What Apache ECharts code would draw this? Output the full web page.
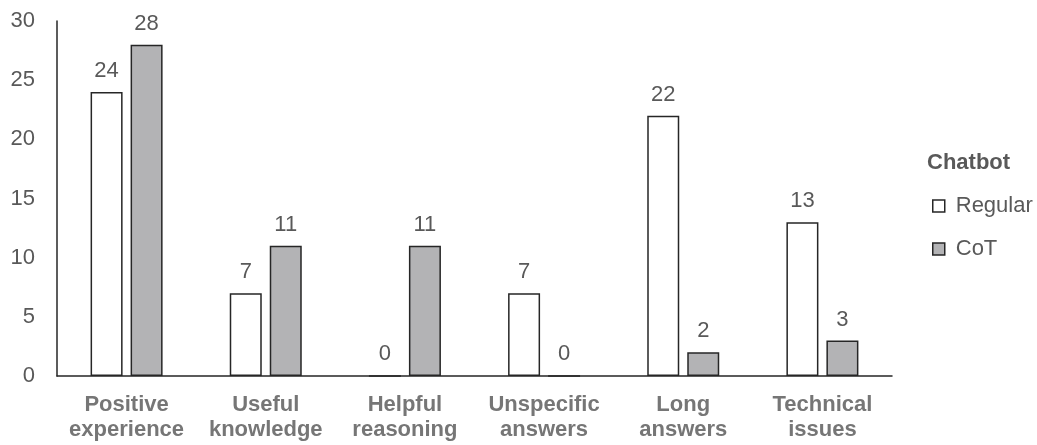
<!DOCTYPE html>
<html>
<head>
<meta charset="utf-8">
<script src="https://cdn.jsdelivr.net/npm/echarts@6/dist/echarts.min.js"></script>
<style>
  html, body { margin: 0; padding: 0; background: #fff; }
  #chart { width: 1037px; height: 445px; }
</style>
</head>
<body>
<div id="chart"></div>
<script>
const categories = ['Positive\nexperience', 'Useful\nknowledge', 'Helpful\nreasoning', 'Unspecific\nanswers', 'Long\nanswers', 'Technical\nissues'];
const regular = [24, 7, 0, 7, 22, 13];
const cot = [28, 11, 11, 0, 2, 3];
const yTicks = [0, 5, 10, 15, 20, 25, 30];

const font = '"Liberation Sans", Arial, sans-serif';
const chart = echarts.init(document.getElementById('chart'));

const labelStyle = {
    show: true,
    position: 'top',
    distance: 10,
    color: '#595959',
    fontSize: 22,
    fontFamily: font
};

chart.setOption({
    animation: false,
    grid: { left: 57, right: 145, top: 21, bottom: 69 },
    title: {
        text: 'Chatbot',
        left: 927,
        top: 152,
        padding: 0,
        textStyle: { color: '#595959', fontSize: 22, fontWeight: 'bold', fontFamily: font }
    },
    legend: {
        orient: 'vertical',
        left: 932,
        top: 195,
        padding: 0,
        icon: 'rect',
        itemWidth: 12,
        itemHeight: 12,
        itemGap: 21,
        itemStyle: { borderWidth: 1.5, borderColor: '#262626' },
        textStyle: { color: '#595959', fontSize: 22, fontFamily: font, padding: [0, 0, 0, 6] },
        data: ['Regular', 'CoT']
    },
    xAxis: {
        type: 'category',
        data: categories,
        axisLine: { lineStyle: { color: '#262626', width: 1.5 } },
        axisTick: { show: false },
        axisLabel: {
            color: '#767676',
            fontSize: 22,
            fontWeight: 'bold',
            fontFamily: font,
            lineHeight: 25,
            margin: 16,
            interval: 0
        }
    },
    yAxis: {
        type: 'value',
        min: 0,
        max: 30,
        interval: 5,
        axisLine: { show: true, lineStyle: { color: '#262626', width: 1.5 } },
        axisTick: { show: false },
        splitLine: { show: false },
        axisLabel: {
            color: '#595959',
            fontSize: 22,
            fontFamily: font,
            margin: 22,
            formatter: v => yTicks.includes(v) ? String(v) : ''
        }
    },
    series: [
        {
            name: 'Regular',
            type: 'bar',
            data: regular,
            barWidth: 32,
            barGap: '25%',
            itemStyle: { color: '#ffffff', borderColor: '#262626', borderWidth: 1.5 },
            label: labelStyle
        },
        {
            name: 'CoT',
            type: 'bar',
            data: cot,
            barWidth: 32,
            itemStyle: { color: '#b3b3b5', borderColor: '#262626', borderWidth: 1.5 },
            label: labelStyle
        }
    ]
});
</script>
</body>
</html>
